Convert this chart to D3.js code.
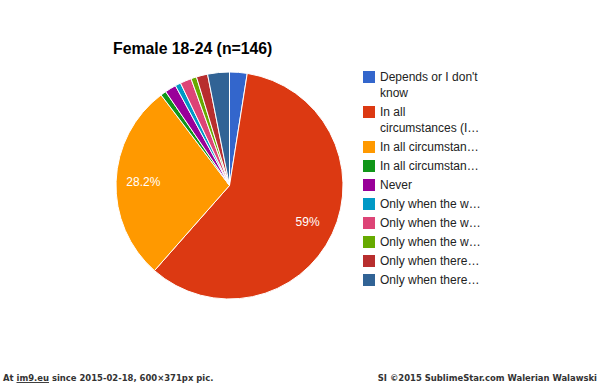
<!DOCTYPE html>
<html><head><meta charset="utf-8">
<script src="https://cdn.jsdelivr.net/npm/d3@7/dist/d3.min.js"></script>
<style>body{margin:0;background:#fff;}svg{display:block;}</style>
</head><body>
<svg id="c" width="600" height="383"></svg>
<script>
const title = "Female 18-24 (n=146)";
const categories = [
  ["Depends or I don't", "know"],
  ["In all", "circumstances (I…"],
  ["In all circumstan…"],
  ["In all circumstan…"],
  ["Never"],
  ["Only when the w…"],
  ["Only when the w…"],
  ["Only when the w…"],
  ["Only when there…"],
  ["Only when there…"]
];
const values = [2.5, 59.0, 28.2, 0.8, 1.6, 0.8, 1.6, 0.8, 1.6, 3.1];
const colors = ["#3366cc","#dc3912","#ff9900","#109618","#990099","#0099c6","#dd4477","#66aa00","#b82e2e","#316395"];
const footerLeft = ["At ", "im9.eu", " since 2015-02-18, 600×371px pic."];
const footerRight = "SI ©2015 SublimeStar.com Walerian Walawski";

const svg = d3.select("#c");
const cx = 229.5, cy = 185.5, r = 113.5;

svg.append("text").attr("x",113).attr("y",54)
  .attr("font-family","Arial, Liberation Sans, sans-serif").attr("font-weight","bold")
  .attr("font-size",15.8).attr("fill","#000").text(title);

const pie = d3.pie().sort(null).value(d=>d);
const arcs = pie(values);
const arc = d3.arc().innerRadius(0).outerRadius(r);
const total = d3.sum(values);
const fmt = d3.format(".1~%");

const g = svg.append("g").attr("transform",`translate(${cx},${cy})`);
g.selectAll("path").data(arcs).join("path")
  .attr("d",arc).attr("fill",(d,i)=>colors[i])
  .attr("stroke","#fff").attr("stroke-width",1);
const labelArc = d3.arc().innerRadius(r*0.76).outerRadius(r*0.76);
g.selectAll("text").data(arcs.filter(d=>d.value/total>0.05)).join("text")
  .attr("transform",d=>`translate(${labelArc.centroid(d)})`)
  .attr("text-anchor","middle").attr("dy","0.35em")
  .attr("font-family","Arial, Liberation Sans, sans-serif").attr("font-size",12)
  .attr("fill","#fff").text(d=>fmt(d.value/total));

// legend
let y = 77;
const lg = svg.append("g");
categories.forEach((lines,i)=>{
  lg.append("rect").attr("x",363).attr("y",y-6).attr("width",12).attr("height",12).attr("fill",colors[i]);
  lines.forEach((t,j)=>{
    lg.append("text").attr("x",380).attr("y",y+4+j*16)
      .attr("font-family","Arial, Liberation Sans, sans-serif").attr("font-size",12)
      .attr("fill","#222").text(t);
  });
  y += 19 + (lines.length-1)*16;
});

// footer
const ft = svg.append("text").attr("x",3).attr("y",381)
  .attr("font-family","DejaVu Sans Condensed, DejaVu Sans, sans-serif").attr("font-weight","bold")
  .attr("font-size",9.4).attr("fill","#333");
footerLeft.forEach((t,i)=>{
  ft.append("tspan").attr("text-decoration", i===1?"underline":null).text(t);
});
svg.append("text").attr("x",597).attr("y",381).attr("text-anchor","end")
  .attr("font-family","DejaVu Sans Condensed, DejaVu Sans, sans-serif").attr("font-weight","bold")
  .attr("font-size",9.4).attr("fill","#333").text(footerRight);
</script>
</body></html>
